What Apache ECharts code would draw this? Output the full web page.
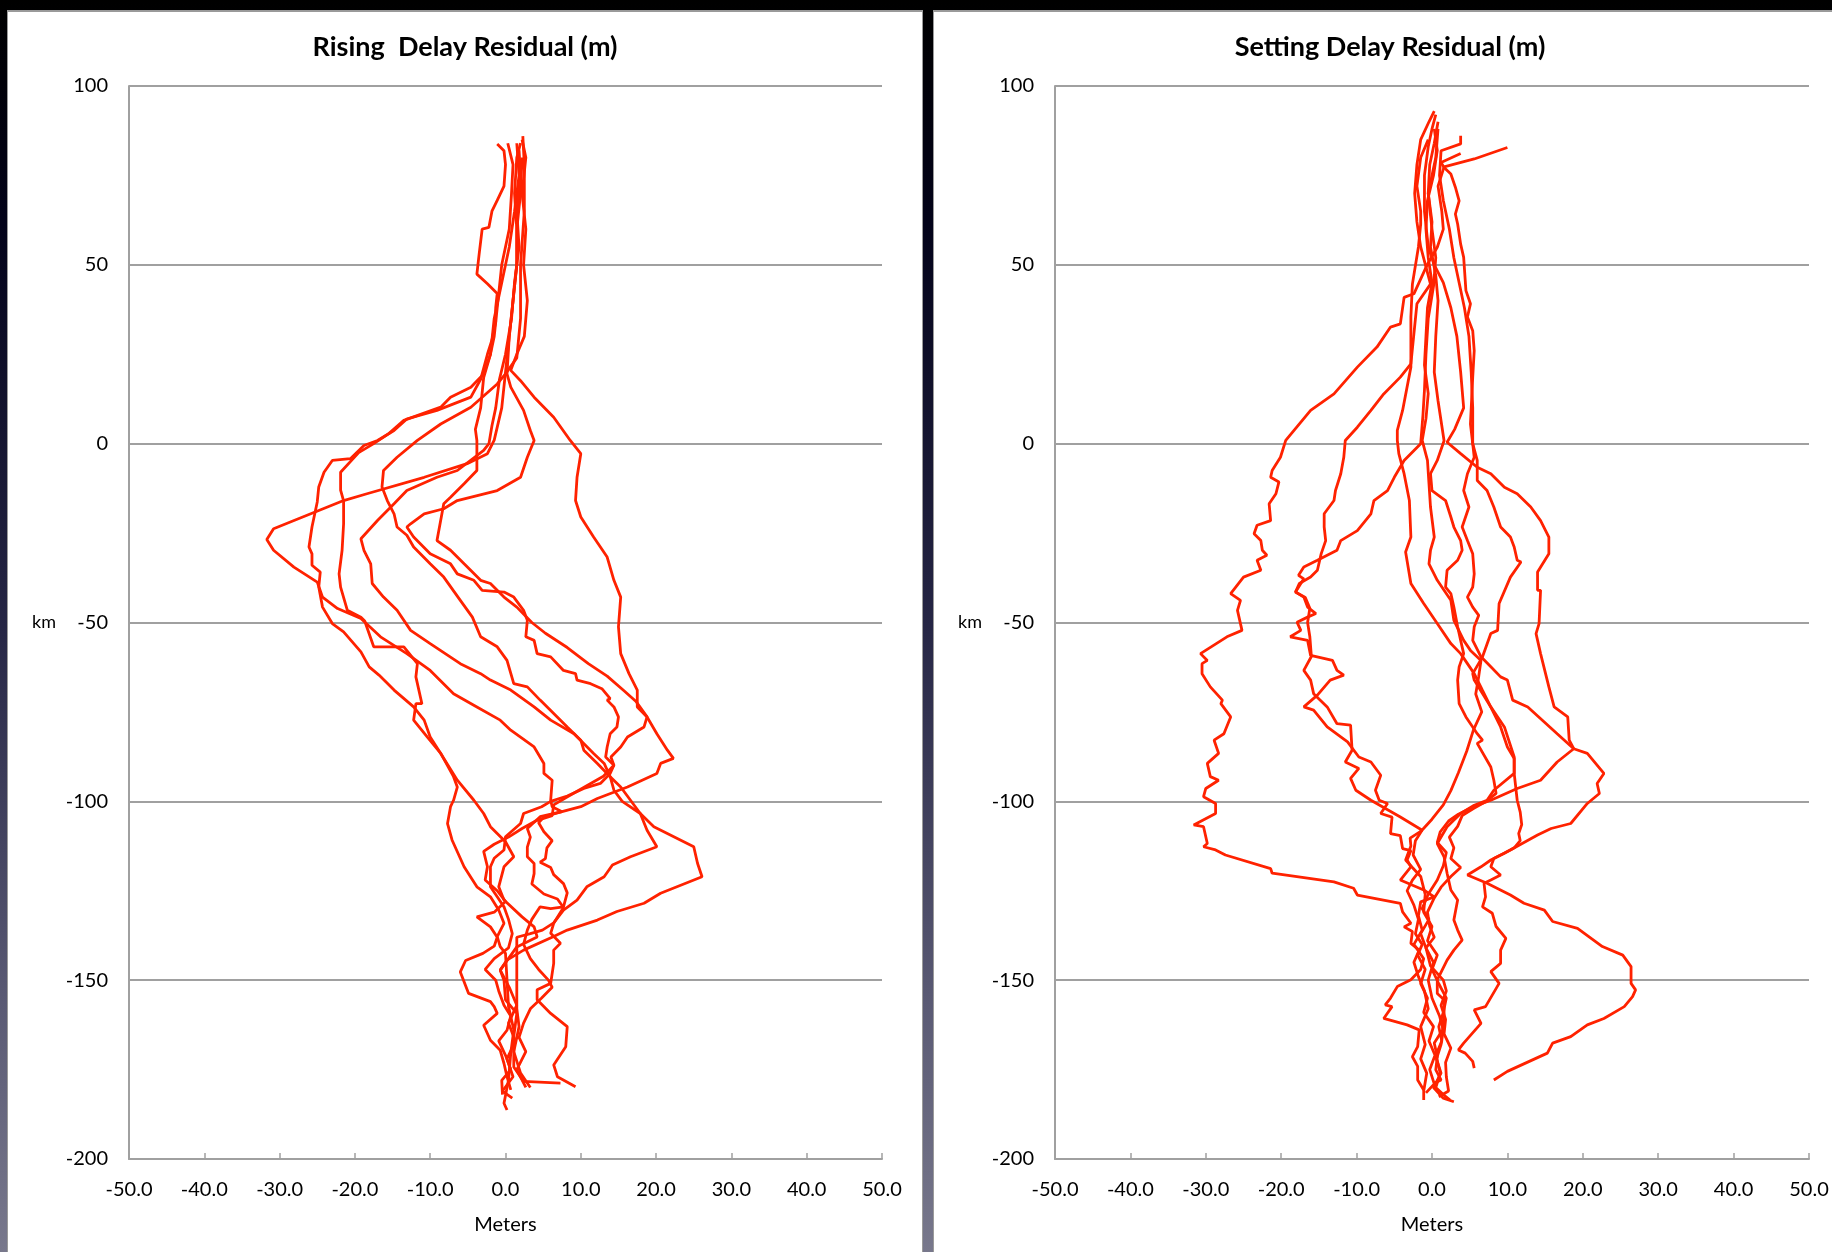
<!DOCTYPE html>
<html><head><meta charset="utf-8">
<script src="https://cdn.jsdelivr.net/npm/echarts@6/dist/echarts.min.js"></script>
<style>
html,body{margin:0;padding:0;width:1832px;height:1252px;overflow:hidden;
background:linear-gradient(to bottom,#000000 0%,#03031a 18%,#262645 50%,#5a5a74 80%,#78788c 100%);}
.panel{position:absolute;background:#fff;box-sizing:border-box;}
#chart{position:absolute;left:0;top:0;width:1832px;height:1252px;}
</style></head><body>
<div class="panel" style="left:7px;top:10px;width:916px;height:1242px;border-top:2px solid #9a9a9a;border-left:1px solid #9a9a9a;border-right:1px solid #9a9a9a"></div>
<div class="panel" style="left:933px;top:10px;width:899px;height:1242px;border-top:2px solid #9a9a9a;border-left:1px solid #9a9a9a"></div>
<div id="chart"></div>
<script>
// ---- titles / axis text ----
var titles = ['Rising  Delay Residual (m)', 'Setting Delay Residual (m)'];
var xName = 'Meters';
var yName = 'km';
var xTicks = [-50, 50, 10];   // min, max, interval
var yTicks = [-200, 100, 50];

// ---- Rising delay residual curves [meters, km] ----
var rise1 = [[-1.1,83.8],[-0.2,81.9],[0,78],[-0.2,72],[-1.1,68],[-1.8,65],[-2.2,60.5],[-3.1,60],[-3.5,53],[-3.8,47.4],[-2.4,44.7],[-1.1,42],[-1.3,38],[-1.3,34],[-1.8,29],[-2.4,25],[-3.3,18],[-4.6,13],[-9.1,9.3],[-13.1,6.9],[-14.8,3.7],[-17,0.9],[-18.8,-0.5],[-20.6,-4.2],[-20.8,-4.7],[-23,-4.7],[-24.1,-8],[-24.8,-12.1],[-25,-16.3],[-25.7,-23.3],[-26.1,-28.9],[-25.7,-30.8],[-25.7,-34],[-24.6,-35.9],[-24.8,-40.1],[-24.3,-45.7],[-23,-50.3],[-21.5,-52.6],[-19.2,-58.2],[-18.1,-62.4],[-16.8,-64.7],[-14.8,-68.9],[-12.2,-73.6],[-10.8,-77.3],[-10,-82],[-8.6,-86.6],[-6.9,-93.1],[-6.4,-96],[-6.9,-99.7],[-7.3,-101.5],[-7.7,-106.2],[-7.1,-110.8],[-5.5,-118.3],[-3.8,-123.9],[-2,-126.7],[-0.9,-130.4],[-0.2,-134.1],[-1.1,-137.8],[-0.7,-140.6],[0,-142.5],[0.2,-149.9],[0.4,-157.4],[1.1,-163.9],[0.7,-170.4],[0.4,-177.9],[-0.2,-184.4],[0.2,-186.3]];
var rise2 = [[2.2,80],[2,70],[1.5,60],[1.5,50],[1,40],[0.5,30],[0,20],[-0.5,10],[-1.5,1],[-2.4,-2.8],[-5.1,-5.6],[-10.8,-9.4],[-18.4,-14],[-21.5,-15.9],[-30.8,-23.8],[-31.7,-26.8],[-30.8,-29.8],[-28.1,-34.5],[-25,-38.7],[-24.3,-42.9],[-22.3,-46.1],[-19.2,-48.9],[-16.6,-54],[-13.1,-58.7],[-10,-63.4],[-6.9,-69.9],[-3.8,-73.6],[-0.7,-77.3],[0.7,-80.1],[3.8,-84.8],[5.1,-89.4],[5.1,-92.2],[6.2,-94.1],[6,-99.7],[6.2,-101.5],[7.5,-102.9],[4.6,-104.3],[2.9,-107.6],[3.3,-110],[2.9,-112.8],[2.9,-115.5],[3.8,-117.4],[3.8,-120.2],[3.5,-123.1],[5.1,-125.9],[6.9,-127.3],[7.7,-129.7],[6.4,-134.1],[6,-136.9],[7.3,-139.7],[6.4,-141.6],[6.4,-145.3],[6,-150.9],[4.2,-152.7],[4.2,-155.5],[6,-159.3],[8.2,-163],[8,-168.6],[6.4,-173.7],[6.9,-177],[9.3,-179.8]];
var rise3 = [[1.5,84],[1.8,75],[1.2,65],[0.5,55],[-0.5,45],[-1.5,35],[-2,25],[-2.9,19.5],[-4.6,15.8],[-7.3,13],[-8.6,10.2],[-13.5,6.5],[-15.5,2.8],[-17.5,0],[-19.5,-2.5],[-21.9,-8],[-21.9,-13],[-21.5,-16],[-21.5,-22.4],[-21.7,-29.8],[-22.1,-36.4],[-21.9,-40.1],[-21,-46.6],[-19.2,-48.5],[-18.7,-49.6],[-17.5,-56.8],[-13.5,-56.8],[-11.7,-61.5],[-11.9,-65.2],[-11.1,-72.7],[-11.9,-72.7],[-12.2,-77.3],[-10.4,-82],[-8.6,-86.6],[-6.4,-94.1],[-4.2,-99.7],[-2.9,-103.4],[-2,-107.1],[0,-111.3],[1.1,-115.5],[-0.2,-118.3],[-0.9,-123.9],[-0.2,-127.6],[2.2,-132.3],[3.8,-135.1],[4.2,-137.9],[1.5,-140.7],[-0.7,-147.2],[-0.2,-150],[0,-155.5],[1.5,-159.3],[1.1,-165.8],[1.1,-174.3],[2.4,-178.3],[7.3,-178.8]];
var rise4 = [[2.3,86],[2.5,78],[2.5,65],[2,50],[2,35],[1.5,24],[0,19.5],[-1.1,16.7],[-4.6,10.2],[-8.6,5.5],[-11.7,0.9],[-14.4,-3.8],[-16.2,-7.5],[-16.4,-12.1],[-15.7,-15.9],[-14.8,-19.6],[-14.4,-23.3],[-13.1,-25.6],[-12.2,-28.9],[-10,-33.6],[-8.2,-37.3],[-6,-43.8],[-4.4,-48.5],[-3.3,-54],[-1.1,-56.8],[0.2,-60.6],[1.1,-67.1],[2.9,-68],[4.6,-71.7],[8.2,-79.2],[10,-82.9],[10.4,-85.7],[12.2,-89.4],[13.9,-93.1],[15.3,-96],[16.6,-99.7],[17.9,-103.4],[19.7,-107.1],[25,-112.7],[25.5,-117.3],[26.1,-121.1],[20.6,-125.7],[18.4,-128.5],[14.8,-130.8],[12.2,-133.2],[8.2,-136],[6.4,-137.8],[2.4,-141.6],[0.2,-144.4],[-0.7,-147.2],[0.5,-152],[1.5,-157],[0.4,-162],[1.3,-167],[0.2,-172],[1,-177],[-0.4,-181],[0.9,-183]];
var rise5 = [[1.8,82],[2,75],[1.5,65],[1.8,55],[1.2,45],[0.8,35],[0,25],[-0.8,18],[-1.3,10],[-1.8,5],[-2.2,0],[-2.9,-1.9],[-6.4,-7.5],[-9.1,-9.4],[-13.1,-13.1],[-14.8,-16.8],[-17,-21.5],[-19.2,-26.6],[-18.8,-29.8],[-17.9,-33.6],[-17.7,-39.1],[-16.2,-42.9],[-14.4,-46.6],[-12.6,-52.2],[-10,-55.9],[-6,-61.5],[-3.3,-64.3],[-2,-66.1],[0.7,-68.9],[3.8,-73.6],[6,-77.3],[9.1,-81.1],[11.7,-86.6],[13.1,-89.4],[13.9,-93.1],[14.4,-96.9],[15.5,-100],[17.9,-103.4],[18.8,-108.1],[20.1,-112.7],[16.6,-115.5],[14.2,-117.8],[13.1,-121.1],[10.8,-123.9],[9.5,-127.6],[7.7,-130.4],[6.4,-134],[4.9,-136],[3.3,-137],[1.5,-138],[1.5,-150],[1.5,-158],[1.8,-163],[1.1,-170],[2,-176],[3.3,-180]];
var rise6 = [[2,84],[1.5,80],[1.2,70],[1.5,60],[1.5,50],[1,40],[0.5,30],[0.2,19.5],[0.7,15.8],[2.4,9.3],[3.3,3.7],[3.8,0.9],[2.9,-3.8],[2,-9.4],[-1.1,-13.1],[-6.4,-15.9],[-8.2,-18.2],[-10.8,-19.6],[-12.6,-22.4],[-13.1,-23.3],[-12.2,-26.1],[-10,-30.8],[-7.3,-33.6],[-6.4,-36.4],[-4.2,-38.2],[-3.1,-41],[-0.2,-41.5],[1.1,-42.9],[2.4,-46.6],[2.9,-49.4],[2.7,-54],[3.8,-55],[4.2,-58.7],[6,-59.6],[7.7,-63.4],[9.3,-64.3],[9.5,-66.1],[11.3,-67.1],[12.8,-68.5],[13.9,-71.3],[13.5,-71.7],[14.4,-73.6],[15,-76.4],[14.8,-79.2],[13.9,-81.1],[13.5,-84.8],[13.3,-87.6],[14.4,-89.9],[13.9,-92.2],[12.6,-95],[10.4,-96.4],[8.2,-98.5],[6,-100],[4.8,-101.5],[2.4,-103.4],[2,-106.2],[0,-109.9],[-0.2,-113.6],[-1.5,-115.9],[-2,-118.3],[-2,-123.9],[-1.1,-126.7],[-0.2,-129.5],[0.4,-133],[0.9,-137],[0.4,-141],[-1.5,-144],[-2.7,-147],[-1.3,-150],[-0.9,-153],[-0.2,-157],[0.7,-160],[0.2,-164],[-0.9,-167],[0,-171],[0.7,-175],[-0.5,-178],[-0.4,-182]];
var rise7 = [[2.2,85],[2.7,80],[2.2,70],[2.7,60],[2.4,50],[2.9,40],[2.5,30],[1.5,25],[0.7,20.5],[2,17.6],[3.8,13],[6.4,7.4],[8.6,0.9],[10,-2.8],[9.5,-9.4],[9.3,-15.9],[10,-20.5],[11.7,-26.1],[13.5,-31.7],[14.4,-38.2],[15.3,-42.9],[15,-51.2],[15.3,-58.7],[16.4,-64.3],[17.5,-68.9],[17.5,-73.6],[18.8,-76.4],[20.1,-81.1],[21.5,-85.7],[22.3,-88],[20.6,-89.4],[20.1,-92.2],[16.2,-96],[12.2,-99.2],[10,-101.5],[7.5,-102.9],[5.1,-104.3],[4.4,-106],[5.1,-108.5],[6.2,-111],[5.5,-113],[5.3,-116],[4.6,-117],[6,-118.5],[6.4,-120.5],[7.7,-123],[8.2,-125.6],[7.7,-129.5],[6,-130],[4.6,-129.5],[3.5,-133],[2.9,-136],[2.4,-140],[3.3,-144],[4.4,-147],[5.7,-150],[6.2,-152],[4.8,-155],[3.3,-158],[2.4,-162],[1.8,-166],[2.7,-170],[1.5,-175],[2.7,-180]];
var rise8 = [[0.3,84],[1,78],[0.8,70],[0.5,60],[-0.5,50],[-1,40],[-1.5,30],[-2,25],[-2.9,18.5],[-3.3,10],[-4,4],[-3.8,0.9],[-3.8,-1.9],[-3.8,-7.5],[-5.5,-11.2],[-7.3,-15],[-8.2,-16.8],[-9.1,-27.1],[-7.3,-29.8],[-5.5,-33.6],[-3.3,-38.2],[-2,-39.1],[-0.2,-42.9],[1.5,-45.7],[3.5,-50],[5.3,-53],[8.2,-57],[11,-61.5],[13.5,-65],[15.7,-69],[17.3,-72],[18.8,-76.4],[18.4,-79.2],[16.2,-82],[15.3,-84.8],[14,-87.6],[14.4,-89.9],[13,-93],[10.5,-96],[8,-99],[6.4,-101],[6.2,-104],[4,-105.5],[2.2,-107.6],[0.4,-110],[-1.5,-112],[-2.9,-114],[-2.4,-118.3],[-2.7,-122],[-1.1,-125],[0,-128],[-1.5,-131],[-3.8,-132.3],[-2,-135.1],[-1.1,-138],[-1.5,-140.5],[-3,-142.5],[-5.3,-144.5],[-6,-147.7],[-4.9,-153.7],[-2,-156],[-1.5,-157.4],[-1.1,-159.3],[-2.9,-162.6],[-2,-166.8],[-0.7,-169.6],[-0.2,-173.3],[0.2,-177],[0.7,-180.7]];

// ---- Setting delay residual curves [meters, km] ----
var set1 = [[10,82.8],[5.6,79.6],[1.6,77.4],[0.8,72],[1.3,65],[1.5,60],[0.7,54.9],[-0.6,50.2],[-2.4,41.9],[-3.7,40.9],[-4.2,33.5],[-5.5,32.6],[-7.3,27],[-9.9,21.4],[-13,13.9],[-16.1,9.3],[-18.3,3.7],[-19.4,0.9],[-20.1,-3.8],[-21.2,-7.5],[-21.4,-9.4],[-20.3,-10.7],[-20.7,-14],[-21.6,-16.8],[-21.4,-21.5],[-23.2,-22.8],[-23.6,-25.2],[-22.7,-27.1],[-22.5,-29.8],[-21.9,-31.2],[-23.2,-32.6],[-22.7,-35.4],[-25,-37.3],[-26.7,-41.9],[-25.4,-43.8],[-25.8,-46.6],[-25.2,-52.2],[-27.2,-54],[-30.7,-58.7],[-29.8,-60.6],[-30.5,-61.5],[-30.5,-64.3],[-29.4,-68],[-27.8,-71.7],[-28,-72.7],[-26.7,-76.4],[-27.6,-81.1],[-28.9,-82.9],[-28.3,-86.6],[-29.8,-89.4],[-29.4,-93.1],[-28.3,-94.1],[-30,-96.4],[-30.3,-98.7],[-28.7,-100.6],[-28.7,-103.4],[-31.6,-106.6],[-30.3,-107.1],[-29.8,-111.8],[-30.3,-112.7],[-28.7,-113.6],[-27.4,-115],[-21.4,-118.8],[-21.2,-120.1],[-13,-122.5],[-10.4,-124.3],[-9.9,-126.2],[-4.2,-128.5],[-3.9,-130.9],[-2.8,-134.1],[-3.7,-135.1],[-2.6,-136.4],[-2.8,-139.7],[-1.7,-141.6],[-2.4,-145],[-1.8,-149],[-1,-153],[-0.5,-158],[-1.5,-163],[-0.9,-168],[-1.5,-172],[-0.7,-176],[-1.1,-181],[-1.1,-183.5]];
var set2 = [[0.3,93],[-0.4,90],[-1.5,85],[-2,78],[-2.3,70],[-2,62],[-1.5,55],[-0.2,44.6],[-2,39.1],[-2.8,22.3],[-4.2,18.6],[-6.4,13.9],[-8.1,9.3],[-9.9,4.6],[-11.5,0.9],[-11.7,-3.8],[-12.1,-8.4],[-12.8,-13.1],[-13,-15.9],[-14.3,-19.6],[-14.3,-23.3],[-14.1,-27.1],[-14.7,-30.8],[-15.2,-35.4],[-16.1,-37.3],[-17.6,-39.1],[-18.1,-41.5],[-17,-42.9],[-16.5,-45.7],[-15.4,-47.5],[-16.5,-48.5],[-17.9,-49.9],[-17.4,-52.2],[-18.8,-54],[-16.5,-55],[-16.1,-59.2],[-13.2,-60.6],[-12.6,-63.4],[-11.7,-64.7],[-13.5,-66.1],[-15.2,-70.3],[-17,-73.6],[-15.7,-74.5],[-13.9,-79.2],[-11.2,-83.4],[-9.7,-87.6],[-8.1,-89],[-6.8,-92.7],[-7.5,-96.9],[-7,-99.7],[-5.9,-100.6],[-6.8,-103.4],[-5.3,-104.4],[-5.5,-109],[-4.2,-109.6],[-3.9,-113.2],[-2.8,-113.8],[-3.3,-116.4],[-2.8,-118.3],[-4.2,-122],[-1.1,-124.8],[0.3,-126.7],[-1.5,-128.1],[-1.8,-132],[-1.3,-136],[-2.4,-140],[-1.1,-144],[-1.5,-147],[-2.8,-149.9],[-4.6,-151.8],[-5.5,-155],[-6.2,-156.9],[-5.3,-157.4],[-6.4,-160.7],[-3.3,-162.5],[-1.7,-163.9],[-1.9,-168.6],[-2.6,-171.4],[-1.9,-174.1],[-1.9,-177.9],[-1.1,-180.7]];
var set3 = [[0.8,88],[0.5,80],[-0.5,70],[0,60],[0.5,52],[0.2,44],[-0.5,35],[-0.8,25],[-1,15],[-1.2,8],[-1.5,0],[-3.7,-4.7],[-5,-9.4],[-5.9,-13.1],[-7.7,-15.9],[-8.1,-19.6],[-9.9,-24.3],[-12.1,-27.1],[-12.6,-29.8],[-15.2,-32.6],[-17,-34.5],[-17.7,-36.8],[-17,-37.8],[-18.1,-41.5],[-16.8,-43],[-16.2,-46],[-16.5,-50],[-16.2,-54],[-16,-59.5],[-17,-63.4],[-16.1,-66.1],[-15.7,-69.9],[-13.9,-73.6],[-12.6,-78.3],[-10.8,-78.7],[-10.6,-85.7],[-11.5,-89],[-9.7,-90.8],[-10.8,-93.6],[-10.1,-96.9],[-8.1,-99.7],[-4.2,-104.4],[-1.3,-108.1],[-2.9,-110.3],[-2.8,-112.5],[-3.5,-116.4],[-2.6,-118.5],[-1.5,-121],[-0.9,-126],[-1.1,-131],[0,-135],[-0.6,-139],[0.7,-143],[0,-147],[0.9,-151],[1.9,-155],[1.5,-159],[0.9,-163],[1.3,-167],[0.5,-171],[1.1,-176],[0.5,-180],[1.5,-182],[2.4,-183.5]];
var set4 = [[-0.5,85],[-1.5,80],[-2,72],[-1.5,65],[-1.5,61.4],[-1.8,55],[-2.6,44.6],[-2.8,35.4],[-2.8,21.4],[-3.9,9.3],[-4.6,3.7],[-4.6,0.9],[-4.4,-2.8],[-3.7,-8.4],[-3,-15.9],[-2.8,-26.1],[-3.5,-30.3],[-2.8,-39.1],[-1.1,-44.7],[0.7,-50.3],[2.5,-55.9],[3.8,-58.7],[5.6,-64.3],[6.7,-69],[8,-74.5],[9.1,-79.2],[10,-84.8],[10.9,-88],[10.9,-92.2],[8.2,-96.9],[7.3,-99.7],[5.6,-101.1],[3.8,-103.4],[2,-107.1],[0.7,-111.8],[1.6,-115.5],[2,-120.1],[2.5,-124.8],[3.4,-127.6],[2.9,-133.2],[3.4,-136],[4,-138.8],[2.9,-141.6],[2,-144.4],[0.7,-149.9],[0.7,-153.7],[1.6,-155.5],[1.6,-159.3],[1.4,-163.9],[0.3,-167.6],[0.7,-171.4],[0.5,-175.1],[1.2,-177.9],[0.3,-178.8]];
var set5 = [[3.8,86.1],[3.8,83.8],[1.2,81.9],[1,75],[1.5,68],[2.3,60],[2.9,52],[3.6,45],[4.3,38],[4.9,30],[5.2,20],[5.4,10],[5.4,0],[5.6,-3.8],[4.7,-8.4],[4.2,-13.1],[4.9,-17.7],[4,-23.3],[4.7,-27.1],[5.4,-30.8],[5.6,-36.4],[5.4,-40.1],[4.7,-42.9],[5.4,-45.7],[6.2,-48],[5.6,-51.2],[5.4,-55],[6.5,-59.6],[7.8,-62.4],[9.1,-65.2],[10,-66.1],[10.7,-71.7],[12.7,-73.6],[16.6,-81.1],[18.8,-85.3],[20.6,-86.6],[22.8,-92.2],[21.9,-95],[22.2,-97.8],[20.6,-100.6],[18.4,-106.2],[15.8,-107.6],[14,-109.4],[10.4,-113.6],[7.8,-116.4],[6.5,-118.3],[4.7,-120.6],[7.3,-122.9],[10.4,-126.2],[12.2,-128.5],[14.9,-130.4],[16,-133.6],[19.3,-135.5],[22.6,-140.6],[25.3,-143],[26.4,-146.2],[26.4,-150.9],[27,-152.7],[26.6,-154.6],[25.5,-157.4],[22.8,-160.7],[20.6,-162.5],[18.4,-165.8],[16,-167.6],[15.3,-170.4],[10,-175.5],[8.2,-177.9]];
var set6 = [[0.5,92],[0,88],[-0.5,83],[-1,75],[-1,65],[-0.5,55],[0.3,50],[1.5,45],[2.5,38],[3.3,30],[3.8,20],[4.2,10],[3,4],[2,0.4],[3.8,-2.8],[6,-6.6],[7.8,-8.4],[9.6,-12.2],[11.3,-14],[13.1,-17.7],[14.4,-21.5],[15.5,-26.1],[15.5,-30.8],[14,-35.9],[14,-41],[14.4,-41],[14.2,-50.3],[13.8,-53.1],[14.4,-58.7],[15.5,-68],[16.2,-73.6],[18,-76.4],[18.2,-82.9],[18.8,-85.3],[16.6,-89],[14.4,-94.1],[11.3,-96.4],[7.8,-99.7],[5.5,-101.5],[3.5,-103.6],[2.2,-105.5],[1.1,-108.5],[0.7,-111.5],[1.9,-114.3],[1.5,-118],[0.7,-122],[-0.5,-126],[-1.3,-130],[-0.4,-133],[-1.5,-137],[-0.8,-141],[0.2,-145],[-0.5,-150],[0,-155],[1,-160],[1.5,-164],[1.2,-168],[0.6,-172],[1.2,-176],[0.2,-180],[1.5,-183],[2.9,-184]];
var set7 = [[3.8,81.1],[1.2,78.6],[1.6,77.2],[2.5,75.4],[3.1,71.7],[3.6,67.9],[3.1,64.2],[3.4,61.4],[3.8,55.8],[4.2,52.1],[4.5,42.8],[5.1,39.1],[4.7,35.4],[5.4,31.6],[5.6,26],[5.4,18.6],[5.1,5.5],[5.4,0],[6,-4.7],[6,-10.3],[7.3,-13.1],[8.2,-17.7],[9.1,-23.3],[10.4,-26.1],[10.9,-28.9],[11.3,-32.6],[11.8,-33.1],[10.4,-37.3],[8.9,-44.7],[8.7,-52.2],[7.8,-53.1],[6.7,-59.6],[5.4,-64.3],[5.6,-66.1],[7.8,-73.6],[9.6,-79.2],[10.9,-87.6],[10.9,-92.2],[11.3,-99.7],[11.7,-103],[11.9,-106.5],[11.5,-109],[11.7,-111],[10.9,-113],[9.6,-114.5],[8.2,-116],[7.8,-118.3],[9.1,-120.6],[7.8,-122],[6.9,-122.9],[7.1,-126.7],[6.7,-129.5],[8,-131.3],[8.5,-135],[9.8,-138.3],[9.1,-141.6],[9.1,-145.3],[7.8,-147.6],[8.9,-150.9],[7.1,-157.4],[5.6,-158.3],[6.5,-162.1],[4.2,-167.6],[3.5,-169.5],[4.4,-170.4],[5.4,-172.7],[5.6,-174.6]];
var set8 = [[0.8,90],[0.3,84],[-0.3,78],[-0.5,70],[0,62],[-0.2,55],[0.5,47],[0.8,40],[0.5,30],[0.3,20],[0.8,12],[1.3,5],[1.6,0.8],[0.7,-4.7],[-0.2,-8.4],[0,-13.1],[1.8,-15.9],[2.5,-20.5],[2.9,-23.3],[3.8,-27.1],[4,-29.8],[3.4,-32.6],[2,-35.4],[1.8,-40.1],[2.5,-41.9],[2.9,-45.7],[3.4,-51.2],[3.8,-55],[4.2,-58.7],[3.6,-62.4],[3.4,-66.1],[3.6,-72.7],[4.5,-76.4],[6,-81.1],[6.7,-82.9],[6,-83.8],[7.8,-90.4],[8.2,-94.1],[8.5,-97.8],[7.2,-100],[5.5,-102],[4,-104],[3.4,-107],[2.3,-110],[2.9,-113],[2.5,-116],[3.8,-118.5],[2.5,-121],[1.2,-124],[0.3,-127],[-0.6,-131],[-0.3,-135],[0.3,-138],[-0.8,-141],[-0.2,-146],[1.5,-150],[1.9,-153],[1.2,-157],[1.8,-161],[1.6,-165],[2.5,-169],[1.8,-173],[1.9,-177],[2.2,-181],[0.9,-182.6]];
var set9 = [[0.3,88],[0.7,82],[0.2,75],[-0.6,68],[-0.8,60],[-0.5,52],[0,45],[-0.6,38],[-0.8,30],[-1,22],[-0.5,14],[-0.8,7],[-1.3,0.9],[-0.6,-4.7],[-0.4,-11.2],[-0.2,-17.7],[0.3,-26.1],[-0.2,-29.8],[-0.4,-33.6],[0.7,-38.2],[1.6,-41],[2.5,-43.8],[2.9,-49.4],[4.2,-55],[5.1,-57.8],[6.5,-60.6],[6.2,-65],[5.8,-70],[6.6,-75],[5.5,-80],[4.6,-86],[3.5,-92],[2.5,-97],[1.5,-101],[0,-105],[-1.3,-108],[-2.2,-111],[-2.5,-115],[-1.5,-119],[-2.6,-122],[-3.3,-125],[-2.4,-129],[-1.8,-133],[-2.2,-137],[-1.3,-140],[-1.9,-143],[-0.9,-147],[-1.5,-151],[-0.6,-155],[-1.1,-159],[0.2,-163],[-0.4,-167],[0.4,-171],[-0.3,-175],[0.3,-179],[-0.8,-181.5]];

var risingCurves = [rise1, rise2, rise3, rise4, rise5, rise6, rise7, rise8];
var settingCurves = [set1, set2, set3, set4, set5, set6, set7, set8, set9];

var RED = '#ff2200';
var FONT = 'Lato, "Open Sans", sans-serif';
var chart = echarts.init(document.getElementById('chart'), null, {renderer: 'canvas'});

var grids = [
  {left: 129, top: 86, width: 753, height: 1073},
  {left: 1055, top: 86, width: 754, height: 1073}
];
function xAx(i) {
  return {
    type: 'value', gridIndex: i, min: xTicks[0], max: xTicks[1], interval: xTicks[2],
    name: xName, nameLocation: 'middle', nameGap: 56,
    nameTextStyle: {fontFamily: FONT, fontSize: 20, color: '#000'},
    axisLine: {show: true, onZero: false, lineStyle: {color: '#a0a0a0', width: 2}},
    axisTick: {show: true, inside: true, length: 6, lineStyle: {color: '#a0a0a0', width: 1.5}},
    axisLabel: {margin: 21, fontFamily: FONT, fontSize: 20, color: '#000',
      formatter: function (v) { return v.toFixed(1); }},
    splitLine: {show: false}
  };
}
function yAx(i) {
  return {
    type: 'value', gridIndex: i, min: yTicks[0], max: yTicks[1], interval: yTicks[2],
    name: yName, nameLocation: 'middle', nameRotate: 0, nameGap: 73,
    nameTextStyle: {fontFamily: FONT, fontSize: 18, color: '#000'},
    axisLine: {show: true, onZero: false, lineStyle: {color: '#a0a0a0', width: 2}},
    axisTick: {show: false},
    axisLabel: {margin: 21, fontFamily: FONT, fontSize: 20, color: '#000'},
    splitLine: {show: true, lineStyle: {color: '#a0a0a0', width: 2}}
  };
}
var series = [];
risingCurves.forEach(function (c) {
  series.push({type: 'line', xAxisIndex: 0, yAxisIndex: 0, data: c, showSymbol: false, symbol: 'none',
    lineStyle: {color: RED, width: 2.8}, silent: true, animation: false});
});
settingCurves.forEach(function (c) {
  series.push({type: 'line', xAxisIndex: 1, yAxisIndex: 1, data: c, showSymbol: false, symbol: 'none',
    lineStyle: {color: RED, width: 2.8}, silent: true, animation: false});
});
chart.setOption({
  backgroundColor: 'transparent',
  animation: false,
  grid: grids,
  xAxis: [xAx(0), xAx(1)],
  yAxis: [yAx(0), yAx(1)],
  graphic: [
    {type: 'text', x: 465, y: 47, style: {text: titles[0], fontFamily: FONT, fontWeight: 'bold', fontSize: 27, fill: '#000', textAlign: 'center', textVerticalAlign: 'middle'}},
    {type: 'text', x: 1390, y: 47, style: {text: titles[1], fontFamily: FONT, fontWeight: 'bold', fontSize: 27, fill: '#000', textAlign: 'center', textVerticalAlign: 'middle'}}
  ],
  series: series
});
</script>
</body></html>
